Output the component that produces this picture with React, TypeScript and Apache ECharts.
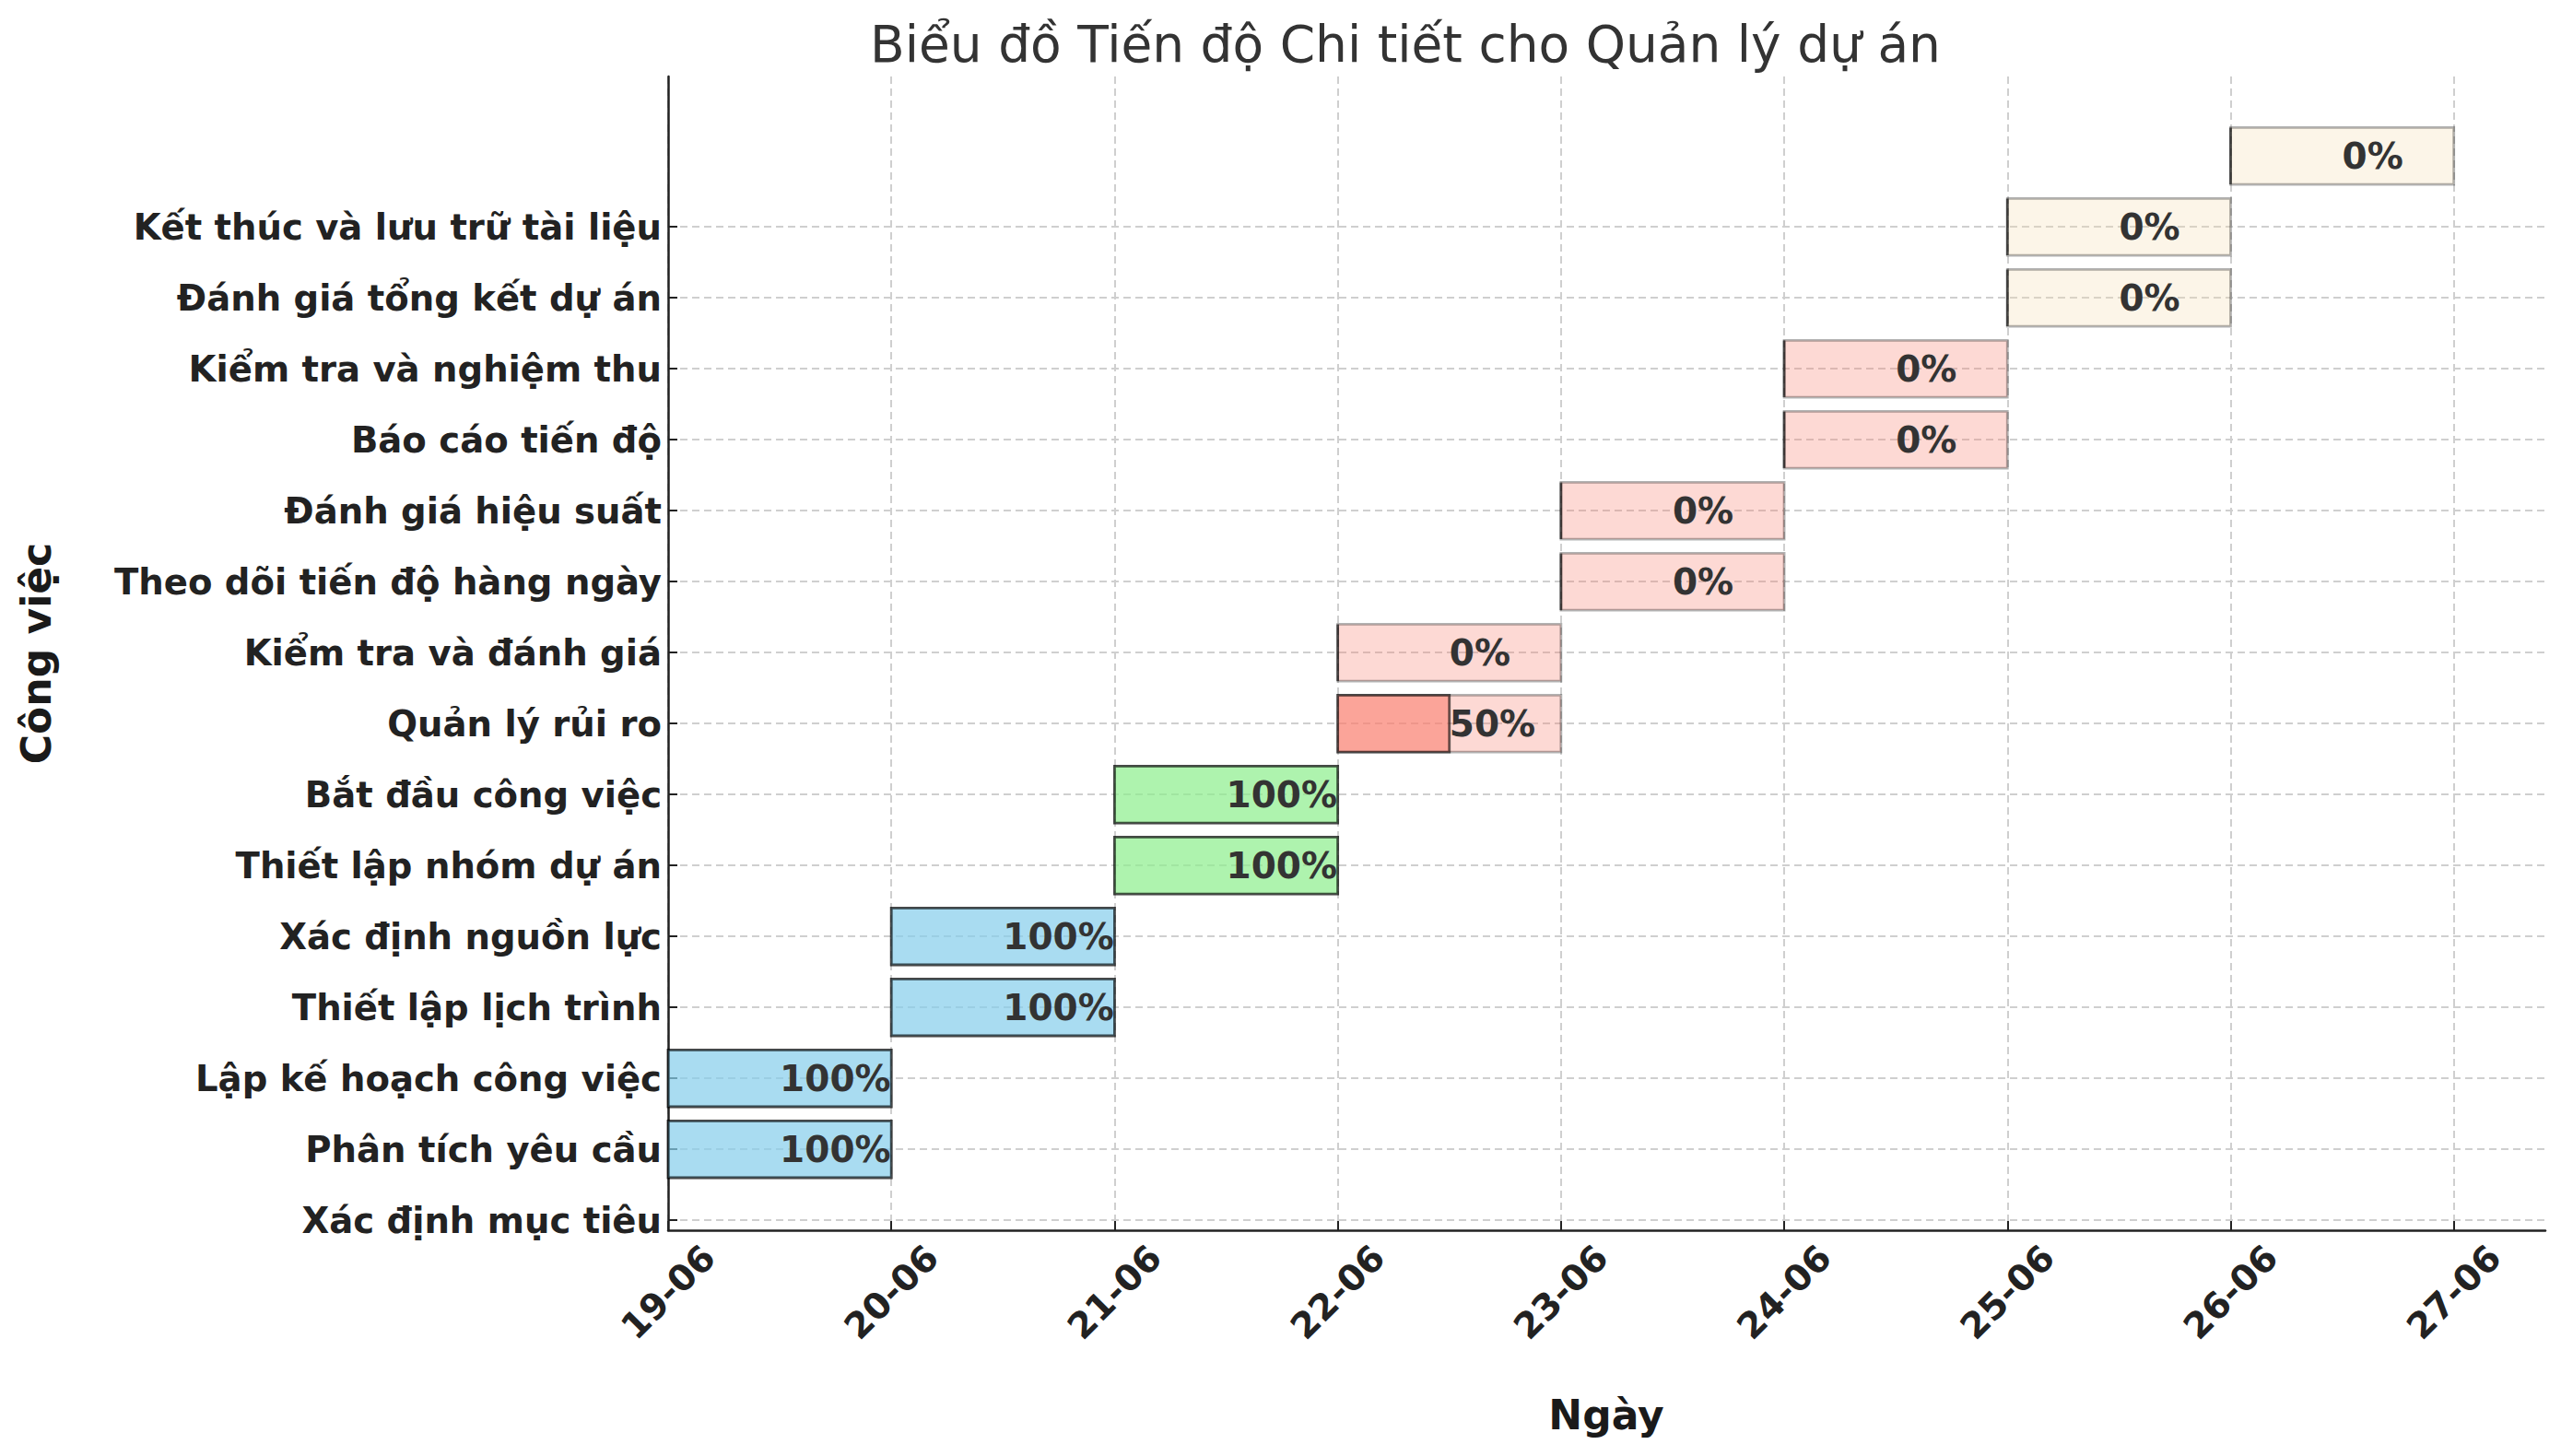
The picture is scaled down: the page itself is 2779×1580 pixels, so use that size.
import React, { useEffect, useRef } from "react";
import * as echarts from "echarts";

const TITLE = "Biểu đồ Tiến độ Chi tiết cho Quản lý dự án";
const X_NAME = "Ngày";
const Y_NAME = "Công việc";

const TASKS = [
  "Xác định mục tiêu",
  "Phân tích yêu cầu",
  "Lập kế hoạch công việc",
  "Thiết lập lịch trình",
  "Xác định nguồn lực",
  "Thiết lập nhóm dự án",
  "Bắt đầu công việc",
  "Quản lý rủi ro",
  "Kiểm tra và đánh giá",
  "Theo dõi tiến độ hàng ngày",
  "Đánh giá hiệu suất",
  "Báo cáo tiến độ",
  "Kiểm tra và nghiệm thu",
  "Đánh giá tổng kết dự án",
  "Kết thúc và lưu trữ tài liệu",
];

const DATE_LABELS = ["19-06", "20-06", "21-06", "22-06", "23-06", "24-06", "25-06", "26-06", "27-06"];

const START = ["19-06", "19-06", "20-06", "20-06", "21-06", "21-06", "22-06", "22-06", "23-06", "23-06", "24-06", "24-06", "25-06", "25-06", "26-06"];
const END = ["20-06", "20-06", "21-06", "21-06", "22-06", "22-06", "23-06", "23-06", "24-06", "24-06", "25-06", "25-06", "26-06", "26-06", "27-06"];
const PROGRESS = [100, 100, 100, 100, 100, 100, 50, 0, 0, 0, 0, 0, 0, 0, 0];
const PHASE = [0, 0, 0, 0, 1, 1, 2, 2, 2, 2, 2, 2, 3, 3, 3];

const PHASE_RGB = ["135,206,235", "144,238,144", "250,128,114", "245,222,179"];

const FONT = "DejaVu Sans";

export default function App() {
  const ref = useRef<HTMLDivElement>(null);

  useEffect(() => {
    if (!ref.current) return;
    const chart = echarts.init(ref.current, undefined, { renderer: "svg" });

    const data = TASKS.map((_, i) => [
      DATE_LABELS.indexOf(START[i]),
      DATE_LABELS.indexOf(END[i]),
      i + 1,
      PROGRESS[i],
      PHASE[i],
    ]);

    const rowIdx = TASKS.map((_, i) => i);
    const dayIdx = DATE_LABELS.map((_, i) => i);

    const option: any = {
      animation: false,
      backgroundColor: "#ffffff",
      grid: { left: 725, top: 83, right: 17, bottom: 245, containLabel: false },
      xAxis: {
        type: "value",
        min: 0,
        max: 8.41,
        axisLine: { show: true, onZero: false, lineStyle: { color: "#222", width: 2.5 } },
        axisTick: { show: true, inside: true, length: 10, lineStyle: { color: "#222", width: 2 }, customValues: dayIdx },
        axisLabel: {
          customValues: dayIdx,
          formatter: (v: number) => DATE_LABELS[Math.round(v)] ?? "",
          rotate: 45,
          align: "center",
          verticalAlign: "middle",
          margin: 67,
          fontFamily: FONT,
          fontWeight: "bold",
          fontSize: 39,
          color: "#222",
        },
        splitLine: { show: true, lineStyle: { color: "#cfcfcf", width: 2, type: [8, 5] } },
      },
      yAxis: {
        type: "value",
        min: -0.14,
        max: 16.12,
        axisLine: { show: true, onZero: false, lineStyle: { color: "#222", width: 2.5 } },
        axisTick: { show: true, inside: true, length: 10, lineStyle: { color: "#222", width: 2 }, customValues: rowIdx },
        axisLabel: {
          customValues: rowIdx,
          formatter: (v: number) => TASKS[Math.round(v)] ?? "",
          margin: 7,
          fontFamily: FONT,
          fontWeight: "bold",
          fontSize: 38.6,
          color: "#222",
        },
        splitLine: { show: true, lineStyle: { color: "#cfcfcf", width: 2, type: [8, 5] } },
      },
      series: [
        {
          type: "custom",
          clip: false,
          data,
          renderItem: (params: any, api: any) => {
            const s = api.value(0);
            const e = api.value(1);
            const r = api.value(2);
            const p = api.value(3);
            const ph = api.value(4);
            const rgb = PHASE_RGB[ph];
            const tl = api.coord([s, r + 0.4]);
            const br = api.coord([e, r - 0.4]);
            const pe = api.coord([s + ((e - s) * p) / 100, r]);
            const mid = api.coord([(s + e) / 2, r]);
            return {
              type: "group",
              children: [
                {
                  type: "rect",
                  shape: { x: tl[0], y: tl[1], width: br[0] - tl[0], height: br[1] - tl[1] },
                  style: { fill: `rgba(${rgb},0.3)`, stroke: "rgba(0,0,0,0.3)", lineWidth: 2.8 },
                },
                {
                  type: "rect",
                  shape: { x: tl[0], y: tl[1], width: pe[0] - tl[0], height: br[1] - tl[1] },
                  style: { fill: `rgba(${rgb},0.6)`, stroke: "rgba(0,0,0,0.6)", lineWidth: 2.8 },
                },
                {
                  type: "text",
                  x: mid[0],
                  y: mid[1],
                  style: {
                    text: `${p}%`,
                    fill: "#333333",
                    fontFamily: FONT,
                    fontWeight: "bold",
                    fontSize: 39,
                    align: "left",
                    verticalAlign: "middle",
                  },
                },
              ],
            };
          },
        },
      ],
      graphic: [
        {
          type: "text",
          x: 1525,
          y: 48,
          style: {
            text: TITLE,
            fill: "#333333",
            fontFamily: FONT,
            fontSize: 55,
            align: "center",
            verticalAlign: "middle",
          },
        },
        {
          type: "text",
          x: 1743,
          y: 1535,
          style: {
            text: X_NAME,
            fill: "#1a1a1a",
            fontFamily: FONT,
            fontWeight: "bold",
            fontSize: 44,
            align: "center",
            verticalAlign: "middle",
          },
        },
        {
          type: "text",
          x: 39,
          y: 709,
          rotation: Math.PI / 2,
          style: {
            text: Y_NAME,
            fill: "#1a1a1a",
            fontFamily: FONT,
            fontWeight: "bold",
            fontSize: 44,
            align: "center",
            verticalAlign: "middle",
          },
        },
      ],
    };

    chart.setOption(option);
    return () => chart.dispose();
  }, []);

  return (
    <div
      ref={ref}
      style={{ position: "fixed", left: 0, top: 0, width: 2779, height: 1580, background: "#fff" }}
    />
  );
}
